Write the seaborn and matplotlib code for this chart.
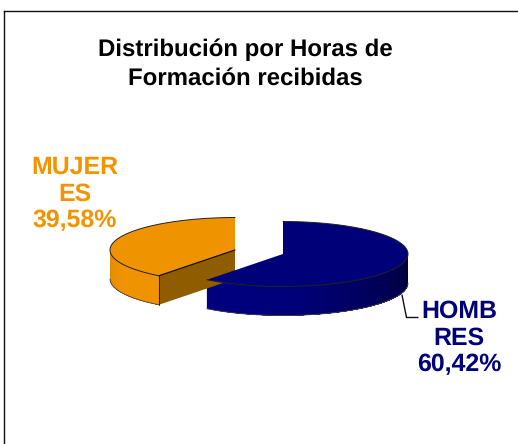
import numpy as np
import seaborn as sns
import matplotlib.pyplot as plt

title = "Distribución por Horas de\nFormación recibidas"
labels = ["HOMBRES", "MUJERES"]
label_text = ["HOMB\nRES\n60,42%", "MUJER\nES\n39,58%"]
values = [60.42, 39.58]

sns.set_theme(style="white")
plt.rcParams['font.family'] = ['Liberation Sans', 'DejaVu Sans']
plt.rcParams['text.hinting'] = 'no_hinting'

W, H = 518, 444
fig = plt.figure(figsize=(W / 100, H / 100), dpi=100)
ax = fig.add_axes([4 / W, 0, (W - 4) / W, (H - 11) / H])
ax.set_xlim(4, W)
ax.set_ylim(H, 11)
ax.set_xticks([])
ax.set_yticks([])
sns.despine(ax=ax, top=False, right=True, bottom=True)
for s in ['left', 'top']:
    ax.spines[s].set_color('#111111')
    ax.spines[s].set_linewidth(1.0)

# slice angles come from the values, clockwise from 12 o'clock
split = 90 - 360 * values[0] / sum(values)
rx, ry, depth = 125, 32.5, 29
blue_c = (283, 254)
orange_c = (235, 250)


def arc(c, a0, a1, n=160):
    t = np.radians(np.linspace(a0, a1, n))
    return c[0] + rx * np.cos(t), c[1] - ry * np.sin(t)


def wall(c, a0, a1, colors):
    # outer wall, painted strip over strip to get the shading without seams
    edges = np.linspace(a0, a1, len(colors) + 1)
    for e0, col in zip(edges[:-1], colors):
        x, y = arc(c, e0, a1, 80)
        ax.fill(np.r_[x, x[::-1]], np.r_[y, y[::-1] + depth], color=col, lw=0, zorder=2)
    x, y = arc(c, a0, a1)
    ax.plot(x, y + depth, color='#444444', lw=0.6, zorder=3)


def top(c, a0, a1, color, zorder=4):
    x, y = arc(c, a0, a1)
    ax.fill(np.r_[c[0], x], np.r_[c[1], y], color=color, lw=0, zorder=zorder)
    ax.plot(x, y, color='#222222', lw=0.7, zorder=zorder)


# orange slice first, the blue one sits in front of it
orange_wall = sns.blend_palette(['#E08A00', '#F09300', '#F09300'], 30)
wall(orange_c, 180, split + 360, orange_wall)
ex, ey = arc(orange_c, split, split, 1)
ax.fill([orange_c[0], ex[0], ex[0], orange_c[0]],
        [orange_c[1], ey[0], ey[0] + depth, orange_c[1] + depth],
        color='#8F5C00', lw=0, zorder=3)
ax.plot([ex[0], ex[0]], [ey[0], ey[0] + depth], color='#222222', lw=0.7, zorder=4)
ax.plot([orange_c[0], ex[0]], [orange_c[1], ey[0]], color='#111111', lw=0.9, zorder=5)
top(orange_c, split + 360, 90, '#F09300')

blue_wall = sns.blend_palette(['#000080', '#000078', '#00005A', '#000038'], 60)
wall(blue_c, split + 360, 360, blue_wall)
top(blue_c, split, 90, '#000078', zorder=6)

# leader line for the blue label
ax.plot([402, 406.5, 418], [295, 317.5, 317.5], color='#111111', lw=1.0, zorder=1)

ax.text(245, 64, title, ha='center', va='center', fontsize=17.3, fontweight='bold',
        color='black', linespacing=1.41)
ax.text(75, 194, label_text[1], ha='center', va='center', fontsize=17.9, fontweight='bold',
        color='#F29400', linespacing=1.2)
ax.text(459, 338, label_text[0], ha='center', va='center', fontsize=17.9, fontweight='bold',
        color='#000078', linespacing=1.2)

fig.savefig('out.png', dpi=100)
